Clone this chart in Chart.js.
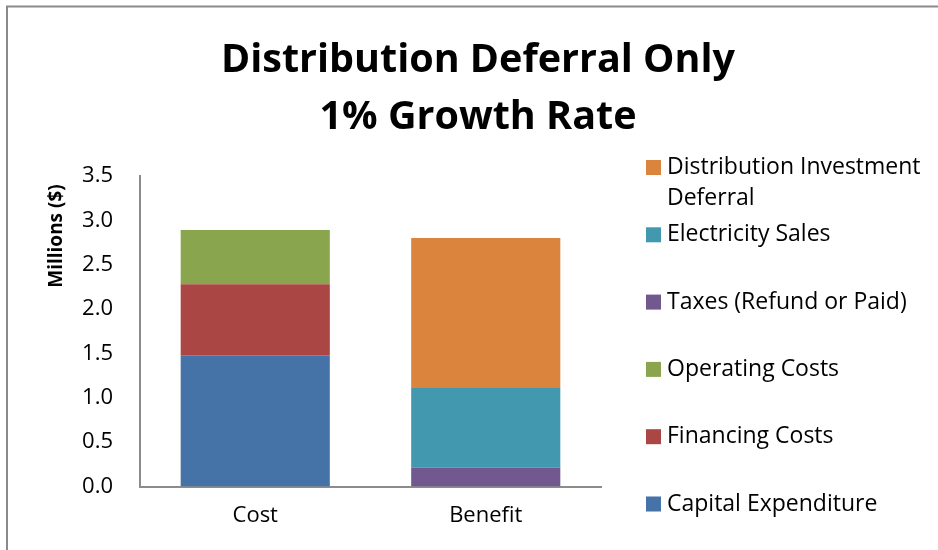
<!DOCTYPE html>
<html>
<head>
<meta charset="utf-8">
<script src="https://cdn.jsdelivr.net/npm/chart.js@4/dist/chart.umd.min.js"></script>
<style>
  html, body { margin: 0; padding: 0; background: #ffffff; }
  #wrap { width: 938px; height: 550px; }
</style>
</head>
<body>
<div id="wrap"><canvas id="chart" width="938" height="550"></canvas></div>
<script>
// Categories and stacked series (millions of dollars)
const categories = ['Cost', 'Benefit'];
const capitalExpenditure = [1.48, null];
const financingCosts = [0.80, null];
const operatingCosts = [0.61, null];
const taxesRefundOrPaid = [null, 0.21];
const electricitySales = [null, 0.90];
const distributionDeferral = [null, 1.69];

const seriesNames = [
  'Capital Expenditure',
  'Financing Costs',
  'Operating Costs',
  'Taxes (Refund or Paid)',
  'Electricity Sales',
  'Distribution Investment Deferral'
];
const seriesColors = ['#4572A7', '#AA4643', '#89A54E', '#71588F', '#4198AF', '#DB843D'];
const yTicks = [0, 0.5, 1.0, 1.5, 2.0, 2.5, 3.0, 3.5];

const titleLines = ['Distribution Deferral Only', '1% Growth Rate'];
const yAxisTitle = 'Millions ($)';

const FONT = '"Open Sans", "DejaVu Sans", sans-serif';

const seriesValues = [capitalExpenditure, financingCosts, operatingCosts,
                      taxesRefundOrPaid, electricitySales, distributionDeferral];

// Title, rotated axis title, right-hand legend and frame
const decorPlugin = {
  id: 'decor',
  afterDraw(chart) {
    const ctx = chart.ctx;
    ctx.save();

    // frame lines on the top and left edges
    ctx.strokeStyle = '#8a8a8a';
    ctx.lineWidth = 2;
    ctx.beginPath();
    ctx.moveTo(7, 550);
    ctx.lineTo(7, 6.5);
    ctx.lineTo(938, 6.5);
    ctx.stroke();

    // chart title
    ctx.fillStyle = '#000000';
    ctx.textAlign = 'center';
    ctx.textBaseline = 'middle';
    ctx.font = 'bold 39.5px ' + FONT;
    ctx.fillText(titleLines[0], 478, 61);
    ctx.fillText(titleLines[1], 478, 118);

    // y axis title
    ctx.save();
    ctx.translate(57, 236);
    ctx.rotate(-Math.PI / 2);
    ctx.font = 'bold 19px ' + FONT;
    ctx.fillText(yAxisTitle, 0, 0);
    ctx.restore();

    // legend, listed top-down in reverse stacking order
    ctx.textAlign = 'left';
    ctx.font = '23px ' + FONT;
    const maxW = 938 - 667 - 2;
    const datasets = chart.data.datasets;
    for (let k = 0; k < datasets.length; k++) {
      const ds = datasets[datasets.length - 1 - k];
      const yc = 167.5 + k * 67.3;
      ctx.fillStyle = ds.backgroundColor;
      ctx.fillRect(646, yc - 7.5, 15, 15);
      ctx.fillStyle = '#000000';
      // wrap long labels onto further lines
      const words = ds.label.split(' ');
      const lines = [];
      let cur = '';
      for (const w of words) {
        const test = cur ? cur + ' ' + w : w;
        if (ctx.measureText(test).width > maxW && cur) {
          lines.push(cur);
          cur = w;
        } else {
          cur = test;
        }
      }
      lines.push(cur);
      lines.forEach((ln, i) => ctx.fillText(ln, 667, yc + i * 30.5));
    }
    ctx.restore();
  }
};

const chart = new Chart(document.getElementById('chart'), {
  type: 'bar',
  data: {
    labels: categories,
    datasets: seriesNames.map((name, i) => ({
      label: name,
      data: seriesValues[i],
      backgroundColor: seriesColors[i],
      borderWidth: 0,
      barPercentage: 0.647,
      categoryPercentage: 1.0
    }))
  },
  options: {
    responsive: false,
    animation: false,
    devicePixelRatio: 1,
    layout: { padding: { left: 0, right: 337, top: 176, bottom: 0 } },
    plugins: {
      legend: { display: false },
      title: { display: false },
      tooltip: { enabled: false }
    },
    scales: {
      x: {
        stacked: true,
        grid: { display: false },
        border: { display: true, color: '#8c8c8c', width: 2 },
        ticks: { color: '#000000', font: { family: FONT, size: 22 }, padding: 8 },
        afterFit(scale) { scale.height = 63.5; }
      },
      y: {
        stacked: true,
        min: 0,
        max: 3.5,
        grid: { display: false },
        border: { display: true, color: '#8c8c8c', width: 2 },
        afterBuildTicks(scale) { scale.ticks = yTicks.map(v => ({ value: v })); },
        ticks: {
          color: '#000000',
          font: { family: FONT, size: 22 },
          padding: 19,
          callback: v => Number(v).toFixed(1)
        },
        afterFit(scale) { scale.width = 140; }
      }
    }
  },
  plugins: [decorPlugin]
});
</script>
</body>
</html>
